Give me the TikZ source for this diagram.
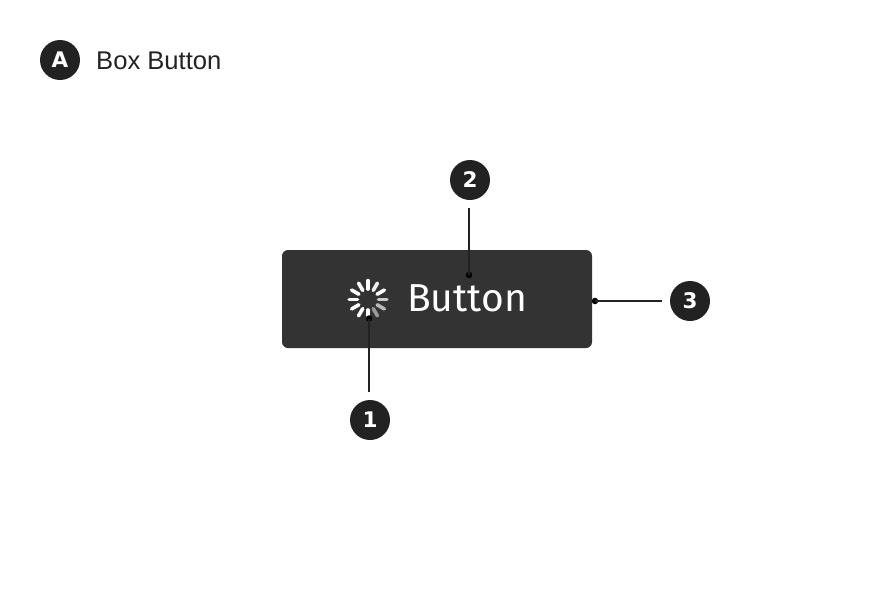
\documentclass[tikz,border=0pt]{standalone}
\usetikzlibrary{calc}
\usepackage{fontspec}
\setmainfont{Liberation Sans}
\newfontfamily\btnfont{Fira Sans}
\newfontfamily\numfont{DejaVu Sans}
\definecolor{badge}{HTML}{222222}
\definecolor{boxfill}{HTML}{333333}
\tikzset{
  x=1pt,y=-1pt,
  badgenode/.style={circle,fill=badge,draw=none,minimum size=40pt,inner sep=0pt,text=white,font=\numfont\fontsize{21.5}{21.5}\selectfont\bfseries},
  dotnode/.style={circle,fill=black,draw=none,minimum size=6.5pt,inner sep=0pt},
  leader/.style={draw=badge,line width=2pt},
  spoke/.style={line width=3.6pt,line cap=round},
}
\begin{document}
\begin{tikzpicture}
\useasboundingbox (0,0) rectangle (876,600);
\node[badgenode] (a) at (60,60) {A};
\node[anchor=west,inner sep=0pt,text=badge,font=\fontsize{25.6}{25.6}\selectfont] (title) at (96,61) {Box Button};
\node[draw=none,fill=boxfill,rounded corners=6pt,minimum width=310pt,minimum height=98pt,inner sep=0pt] (box) at (437,299) {};
\coordinate (sc) at (368,299.5);
\foreach \ang/\col in {90/white,60/white!92!boxfill,30/white,0/white!75!boxfill,-30/white!65!boxfill,-60/white!50!boxfill,-90/white,-120/white,-150/white,180/white,150/white,120/white}{
  \draw[spoke,color=\col] ($(sc)+(\ang:10.5pt)$) -- ($(sc)+(\ang:18.9pt)$);
}
\node[anchor=west,inner sep=0pt,text=white,font=\btnfont\fontsize{39}{39}\selectfont] (btn) at (407,298) {Button};
\node[badgenode] (n1) at (370,420) {1};
\node[badgenode] (n2) at (470,180) {2};
\node[badgenode] (n3) at (690,301) {3};
\node[dotnode] (d1) at (369,318.5) {};
\node[dotnode] (d2) at (469,275) {};
\node[dotnode] (d3) at (595,301) {};
\coordinate (e1) at (369,392);
\coordinate (e2) at (469,208);
\coordinate (e3) at (662,301);
\draw[leader] (d1.center) -- (e1);
\draw[leader] (d2.center) -- (e2);
\draw[leader] (d3.center) -- (e3);
\end{tikzpicture}
\end{document}
